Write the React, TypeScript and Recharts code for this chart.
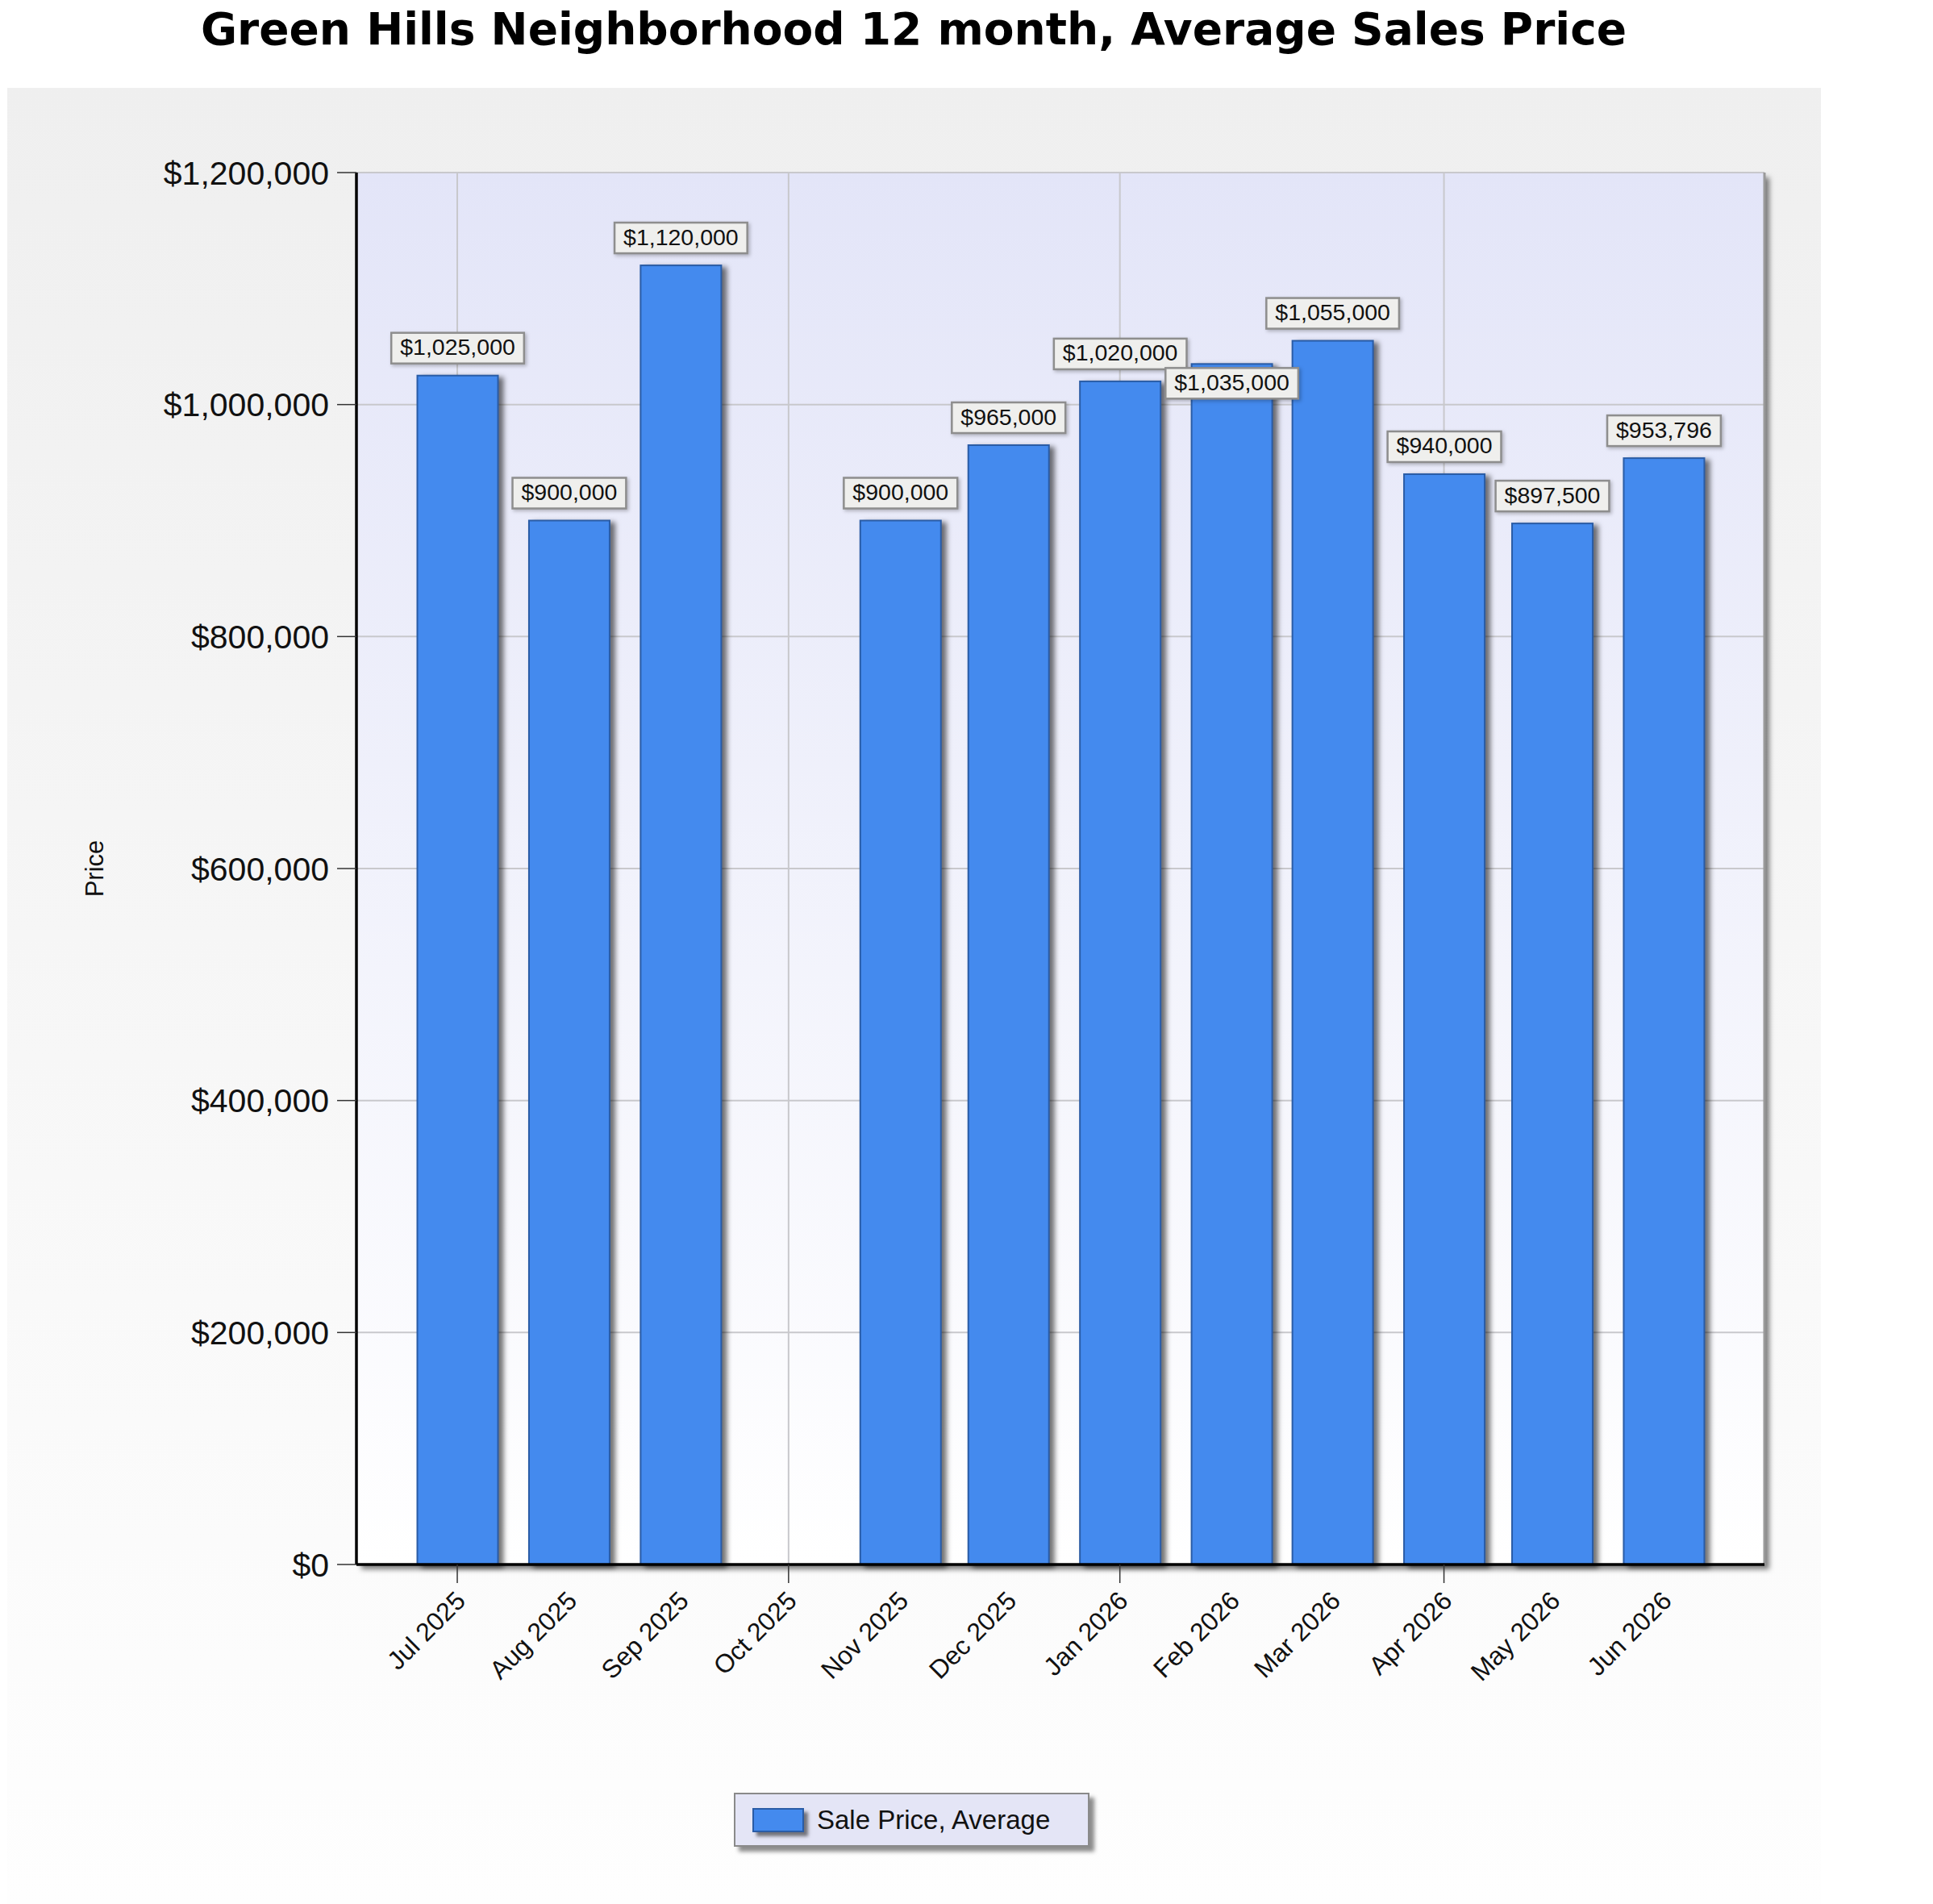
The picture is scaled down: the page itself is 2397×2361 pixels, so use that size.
import React from 'react';
import {
  BarChart, Bar, XAxis, YAxis, CartesianGrid, ReferenceLine, LabelList, Legend,
} from 'recharts';

// ── Data ────────────────────────────────────────────────────────────────────
const TITLE = 'Green Hills Neighborhood 12 month, Average Sales Price';
const SERIES_NAME = 'Sale Price, Average';
const MONTHS = [
  'Jul 2025', 'Aug 2025', 'Sep 2025', 'Oct 2025', 'Nov 2025', 'Dec 2025',
  'Jan 2026', 'Feb 2026', 'Mar 2026', 'Apr 2026', 'May 2026', 'Jun 2026',
];
const MONTH_STARTS = [
  '2025-07-01', '2025-08-01', '2025-09-01', '2025-10-01', '2025-11-01', '2025-12-01',
  '2026-01-01', '2026-02-01', '2026-03-01', '2026-04-01', '2026-05-01', '2026-06-01',
];
const AVG_PRICES = [
  1025000, 900000, 1120000, null, 900000, 965000,
  1020000, 1035000, 1055000, 940000, 897500, 953796,
];
const GRID_MONTHS = ['2025-07-01', '2025-10-01', '2026-01-01', '2026-04-01'];
const PRICE_TICKS = [0, 200000, 400000, 600000, 800000, 1000000, 1200000];
// labels pushed below the bar top to dodge their neighbour
const DODGED_MONTHS = ['Feb 2026'];

// ── Layout / style ──────────────────────────────────────────────────────────
const W = 2397;
const H = 2361;
const PLOT = { left: 442, top: 214, right: 2188, bottom: 1940 };
const DAY = 86400000;
const PAD_DAYS = 28;

const SANS = "'Liberation Sans', Arial, sans-serif";
const BAR_FILL = '#448aee';
const BAR_EDGE = '#2a5ca6';
const GRID = '#c8c8cc';

const monthTimes = MONTH_STARTS.map(d => Date.parse(d));
const gridTimes = GRID_MONTHS.map(d => Date.parse(d));
const xDomain = [monthTimes[0] - PAD_DAYS * DAY, monthTimes[monthTimes.length - 1] + PAD_DAYS * DAY];

const data = MONTHS.map((m, i) => ({ month: m, t: monthTimes[i], price: AVG_PRICES[i] }));

const money = (v: number) => '$' + v.toLocaleString('en-US');

// rough Arial advance widths for the label boxes
const textWidth = (s: string, size: number) =>
  s.split('').reduce((w, c) => w + (c === ',' ? 0.278 : 0.556), 0) * size;

const MonthTick = (props: any) => {
  const { x, y, payload } = props;
  const idx = monthTimes.indexOf(payload.value);
  const isQuarter = gridTimes.includes(payload.value);
  const ax = x + 12;
  const ay = y + 47;
  return (
    <g>
      {isQuarter && (
        <line x1={x} x2={x} y1={y} y2={y + 23} stroke="#333" strokeWidth={1.5} />
      )}
      <text
        x={ax} y={ay} textAnchor="end" transform={`rotate(-45 ${ax} ${ay})`}
        fontFamily={SANS} fontSize={32} fill="#111"
      >
        {idx >= 0 ? MONTHS[idx] : ''}
      </text>
    </g>
  );
};

const PriceLabel = (props: any) => {
  const vb = props.viewBox && props.viewBox.width != null ? props.viewBox : props;
  const { x, y, width } = vb;
  const { value } = props;
  if (value == null || x == null) return null;
  const text = money(Number(value));
  const fs = 28.5;
  const bw = textWidth(text, fs) + 22;
  const bh = 38;
  const cx = x + width / 2;
  const month = MONTHS[AVG_PRICES.indexOf(Number(value))];
  const dodged = DODGED_MONTHS.includes(month);
  const top = dodged ? y + 5 : y - 15 - bh;
  return (
    <g>
      <rect
        x={cx - bw / 2} y={top} width={bw} height={bh}
        fill="#efefed" stroke="#8e8e8e" strokeWidth={2.5}
        style={{ filter: 'drop-shadow(2px 2px 2px rgba(0,0,0,0.25))' }}
      />
      <text
        x={cx} y={top + bh - 10.5} textAnchor="middle"
        fontFamily={SANS} fontSize={fs} fill="#111"
      >
        {text}
      </text>
    </g>
  );
};

const BarShape = (props: any) => {
  const { x, y, width, height } = props;
  if (x == null || !height) return null;
  return (
    <rect
      x={x} y={y} width={width} height={height}
      fill={BAR_FILL} stroke={BAR_EDGE} strokeWidth={2}
      style={{ filter: 'drop-shadow(6px 3px 3px rgba(0,0,0,0.55))' }}
    />
  );
};

const LegendBox = (props: any) => {
  const item = (props.payload || [])[0];
  return (
    <div
      style={{
        width: 441, height: 67, boxSizing: 'border-box',
        background: '#e4e5f6', border: '2px solid #8a8a8a',
        boxShadow: '6px 6px 5px rgba(0,0,0,0.45)',
        display: 'flex', alignItems: 'center', paddingLeft: 21,
        fontFamily: SANS, fontSize: 33, color: '#111',
      }}
    >
      <div
        style={{
          width: 64, height: 30, boxSizing: 'border-box', marginRight: 16,
          background: BAR_FILL, border: `2px solid ${BAR_EDGE}`,
          boxShadow: '5px 5px 4px rgba(0,0,0,0.5)',
        }}
      />
      <span>{item ? item.value : SERIES_NAME}</span>
    </div>
  );
};

export default function App() {
  const plotW = PLOT.right - PLOT.left;
  const plotH = PLOT.bottom - PLOT.top;

  return (
    <div style={{ position: 'absolute', left: 0, top: 0, width: W, height: H, background: '#fff' }}>

      {/* ── Backdrop: panel, title, plot shadow ── */}
      <svg width={W} height={H} style={{ position: 'absolute', left: 0, top: 0 }}>
        <defs>
          <linearGradient id="panelGrad" x1="0" y1="0" x2="0" y2="1">
            <stop offset="0%" stopColor="#efefef" />
            <stop offset="100%" stopColor="#fefefe" />
          </linearGradient>
          <linearGradient id="plotBg" x1="0" y1="0" x2="0" y2="1">
            <stop offset="0%" stopColor="#e3e5f8" />
            <stop offset="100%" stopColor="#ffffff" />
          </linearGradient>
          <filter id="plotShadow" x="-5%" y="-5%" width="115%" height="115%">
            <feDropShadow dx="6" dy="6" stdDeviation="3" floodColor="#000" floodOpacity="0.5" />
          </filter>
        </defs>
        <rect x={9} y={109} width={2249} height={H - 109} fill="url(#panelGrad)" />
        <text
          x={1133} y={55} textAnchor="middle"
          fontFamily="'DejaVu Sans', Verdana, sans-serif" fontWeight="bold" fontSize={55} fill="#000"
        >
          {TITLE}
        </text>
        <rect x={PLOT.left} y={PLOT.top} width={plotW} height={plotH} fill="#fff" filter="url(#plotShadow)" />
      </svg>

      {/* ── Chart ── */}
      <div style={{ position: 'absolute', left: 0, top: 0 }}>
        <BarChart
          width={W}
          height={H}
          data={data}
          margin={{ top: PLOT.top, right: W - PLOT.right, bottom: 0, left: 0 }}
        >
          <CartesianGrid
            stroke={GRID}
            strokeWidth={2}
            fill="url(#plotBg)"
            fillOpacity={1}
            verticalValues={gridTimes}
          />
          <XAxis
            dataKey="t"
            type="number"
            domain={xDomain}
            allowDataOverflow
            ticks={monthTimes}
            interval={0}
            height={H - PLOT.bottom}
            tickSize={0}
            tickMargin={0}
            tickLine={false}
            axisLine={{ stroke: '#000', strokeWidth: 3.5 }}
            tick={<MonthTick />}
          />
          <YAxis
            type="number"
            domain={[0, 1200000]}
            ticks={PRICE_TICKS}
            width={PLOT.left}
            tickSize={24}
            tickMargin={10}
            tickLine={{ stroke: '#333', strokeWidth: 1.5 }}
            axisLine={{ stroke: '#000', strokeWidth: 3.5 }}
            tickFormatter={money}
            tick={{ fontFamily: SANS, fontSize: 41, fill: '#111' }}
            label={{
              content: (p: any) => {
                const vb = p.viewBox || {};
                const cx = (vb.x || 0) + 117;
                const cy = (vb.y || 0) + (vb.height || 0) / 2;
                return (
                  <text
                    x={cx} y={cy} textAnchor="middle" dominantBaseline="central"
                    transform={`rotate(-90 ${cx} ${cy})`}
                    fontFamily={SANS} fontSize={31} fill="#111"
                  >
                    Price
                  </text>
                );
              },
            }}
          />
          <ReferenceLine x={xDomain[1]} stroke="#9a9a9a" strokeWidth={3} />
          <Legend
            layout="horizontal"
            verticalAlign="middle"
            align="center"
            wrapperStyle={{ position: 'absolute', left: 910, top: 2223, width: 441, height: 67 }}
            content={<LegendBox />}
          />
          <Bar
            dataKey="price"
            name={SERIES_NAME}
            fill={BAR_FILL}
            barSize={100}
            shape={<BarShape />}
            isAnimationActive={false}
          >
            <LabelList dataKey="price" content={<PriceLabel />} />
          </Bar>
        </BarChart>
      </div>
    </div>
  );
}
